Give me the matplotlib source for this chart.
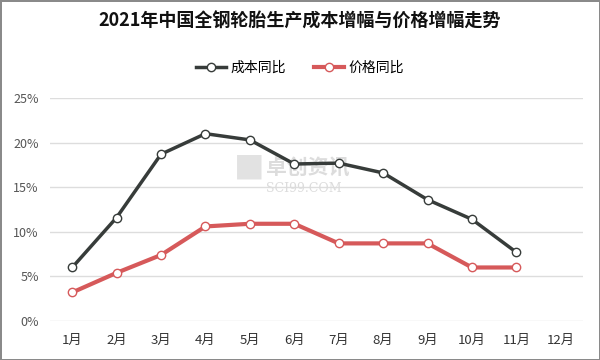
import matplotlib
matplotlib.use('Agg')
import matplotlib.pyplot as plt
from matplotlib.ticker import FuncFormatter
import numpy as np

plt.rcParams['font.family'] = ['Noto Sans CJK SC', 'DejaVu Sans']

months = ['1月', '2月', '3月', '4月', '5月', '6月', '7月', '8月', '9月', '10月', '11月', '12月']
cost_yoy = [6.0, 11.6, 18.7, 21.0, 20.3, 17.6, 17.7, 16.6, 13.6, 11.4, 7.7]
price_yoy = [3.2, 5.4, 7.4, 10.6, 10.9, 10.9, 8.7, 8.7, 8.7, 6.0, 6.0]
y_ticks = [0, 5, 10, 15, 20, 25]

GRAY = '#373c3a'
RED = '#d6595a'

fig = plt.figure(figsize=(6, 3.6), dpi=100)
fig.patch.set_edgecolor('#8a8a8a')
fig.patch.set_linewidth(2)
ax = fig.add_axes([50 / 600, 1 - 321 / 360, 533 / 600, 223 / 360])

x = np.arange(len(months))
ax.plot(x[:len(cost_yoy)], cost_yoy, color=GRAY, lw=2.5, marker='o', ms=6,
        mfc='white', mec=GRAY, mew=1, label='成本同比', zorder=3)
ax.plot(x[:len(price_yoy)], price_yoy, color=RED, lw=3, marker='o', ms=6,
        mfc='white', mec=RED, mew=1, label='价格同比', zorder=3)

ax.set_xlim(-0.5, len(months) - 0.5)
ax.set_ylim(0, 25)
ax.set_xticks(x)
ax.set_xticklabels(months, fontsize=9.5, color='#333333')
ax.set_yticks(y_ticks)
ax.yaxis.set_major_formatter(FuncFormatter(lambda v, p: f'{v:.0f}%'))
ax.tick_params(axis='y', labelsize=9, colors='#555555', length=0, pad=8)
ax.tick_params(axis='x', length=0, pad=9)
ax.grid(axis='y', color='#dddddd', lw=1)
ax.set_axisbelow(True)
for s in ax.spines.values():
    s.set_visible(False)

# watermark, under the lines
ax.text(0.345, 0.745, '■', transform=ax.transAxes, fontsize=22, color='#e2e2e2',
        va='top', zorder=1)
ax.text(0.405, 0.735, '卓创资讯', transform=ax.transAxes, fontsize=15, color='#dcdcdc',
        fontweight='bold', va='top', zorder=1)
ax.text(0.405, 0.625, 'SCI99.COM', transform=ax.transAxes, fontsize=9, color='#dcdcdc',
        family='DejaVu Serif', va='top', zorder=1)

fig.text(0.5, 0.94, '2021年中国全钢轮胎生产成本增幅与价格增幅走势', ha='center', va='center',
         fontsize=13, fontweight='bold', color='#111111')
fig.legend(loc='center', bbox_to_anchor=(0.5, 1 - 68 / 360), ncol=2, frameon=False,
           fontsize=10, handlelength=2.2, columnspacing=2, handletextpad=0.3)

fig.savefig('out.png', dpi=100, edgecolor=fig.get_edgecolor())
